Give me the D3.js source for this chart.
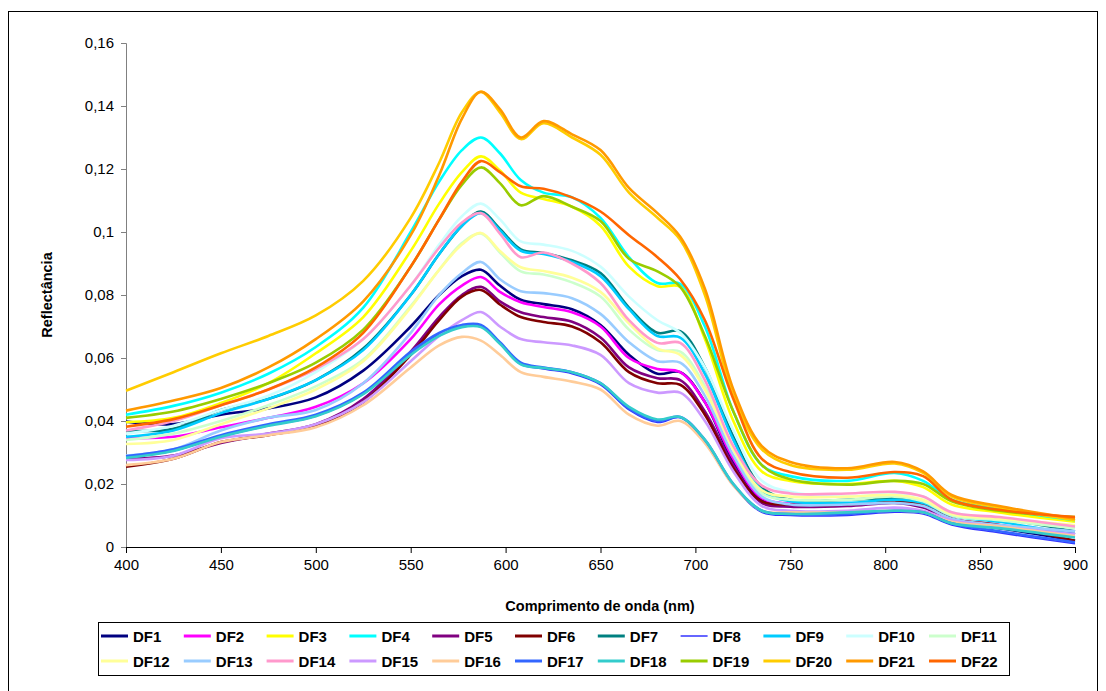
<!DOCTYPE html>
<html>
<head>
<meta charset="utf-8">
<script src="https://d3js.org/d3.v7.min.js"></script>
<style>
  body { margin: 0; background: #fff; }
  svg { font-family: "Liberation Sans", Arial, sans-serif; }
</style>
</head>
<body>
<svg id="chart" width="1106" height="691"></svg>
<script>
// wavelengths (nm) where the curves were read
const wavelengths = [400,425,450,475,500,525,550,565,577,587,597,608,620,635,650,665,680,692,705,720,735,750,780,805,820,835,860,900];

const df1  = [.0398,.039,.042,.044,.0475,.056,.070,.080,.086,.088,.083,.0785,.0771,.0755,.0705,.061,.055,.0555,.046,.027,.015,.0135,.0135,.015,.0135,.008,.006,.002];
const df2  = [.0346,.035,.038,.041,.0445,.052,.066,.077,.083,.0857,.081,.0777,.0762,.0745,.070,.060,.0565,.0555,.046,.028,.0155,.0138,.0135,.0145,.013,.009,.007,.004];
const df3  = [.0396,.041,.0457,.052,.0615,.073,.094,.109,.119,.124,.1195,.1125,.1105,.108,.102,.089,.0828,.0826,.066,.040,.024,.021,.020,.021,.019,.0135,.011,.008];
const df4  = [.042,.0448,.049,.055,.0635,.076,.100,.116,.126,.130,.125,.1165,.1125,.111,.1045,.092,.0838,.0835,.070,.043,.026,.0225,.021,.0235,.021,.015,.012,.0085];
const df5  = [.028,.029,.033,.036,.039,.047,.062,.073,.080,.0826,.078,.0745,.073,.0715,.0665,.057,.0536,.053,.043,.026,.014,.0128,.013,.014,.0125,.0085,.0065,.004];
const df6  = [.0255,.028,.0333,.0355,.0385,.046,.061,.072,.0795,.0816,.077,.073,.0714,.070,.065,.0555,.052,.0515,.042,.025,.0145,.0135,.0135,.0145,.0135,.009,.007,.002];
const df7  = [.037,.0375,.0435,.047,.053,.063,.080,.093,.102,.1065,.101,.0945,.0933,.091,.087,.076,.068,.0685,.057,.035,.019,.015,.015,.0155,.0145,.010,.009,.005];
const df8  = [.0285,.0305,.035,.0385,.0415,.0485,.0615,.0675,.070,.070,.0645,.058,.0565,.055,.0515,.0435,.0395,.041,.0335,.0195,.011,.010,.010,.011,.0105,.007,.0045,.001];
const df9  = [.035,.037,.0425,.047,.053,.0625,.080,.093,.102,.106,.1005,.094,.093,.0905,.086,.0755,.067,.0665,.055,.034,.018,.0145,.014,.015,.014,.010,.008,.004];
const df10 = [.036,.0385,.0435,.048,.0555,.066,.083,.096,.105,.109,.104,.097,.096,.094,.089,.0795,.072,.068,.057,.037,.021,.0175,.016,.017,.016,.011,.009,.006];
const df11 = [.034,.036,.040,.045,.051,.0595,.0765,.088,.0965,.0995,.0935,.0875,.0865,.084,.0795,.069,.0625,.062,.051,.031,.017,.015,.015,.016,.0145,.010,.0085,.006];
const df12 = [.0327,.034,.039,.044,.050,.059,.076,.088,.096,.0997,.094,.0888,.0876,.0855,.081,.071,.063,.061,.050,.031,.018,.016,.016,.0165,.015,.0105,.009,.007];
const df13 = [.029,.031,.037,.041,.0435,.052,.068,.080,.087,.0905,.085,.0812,.0806,.079,.074,.065,.059,.0585,.048,.029,.016,.0135,.0135,.014,.013,.009,.007,.005];
const df14 = [.037,.040,.045,.050,.0565,.066,.083,.095,.103,.106,.0995,.092,.0935,.090,.0838,.072,.0648,.0648,.053,.032,.0195,.017,.017,.0175,.016,.011,.0095,.0065];
const df15 = [.0276,.029,.0345,.036,.039,.046,.059,.067,.072,.0746,.070,.066,.065,.064,.061,.052,.049,.049,.040,.024,.013,.0115,.0115,.0125,.0115,.0085,.0065,.004];
const df16 = [.026,.028,.0333,.0355,.038,.045,.057,.064,.0667,.0655,.061,.0555,.054,.0525,.050,.042,.0385,.040,.033,.0195,.0115,.011,.011,.0115,.011,.008,.0065,.0035];
const df17 = [.0288,.031,.0355,.039,.042,.049,.062,.068,.0705,.0705,.065,.0585,.057,.0555,.052,.044,.040,.0413,.034,.020,.0115,.0105,.0105,.0115,.011,.0075,.005,.0015];
const df18 = [.0283,.0305,.035,.0385,.0415,.0485,.061,.067,.0698,.0698,.0645,.058,.0568,.0555,.052,.0445,.0405,.0413,.034,.020,.0115,.0105,.011,.0115,.011,.0075,.006,.003];
const df19 = [.041,.043,.047,.052,.0585,.069,.089,.104,.115,.1205,.1155,.1085,.1114,.108,.1035,.0915,.0875,.0826,.067,.043,.026,.0215,.0198,.021,.020,.0145,.0115,.0095];
const df20 = [.0496,.0555,.0615,.067,.0735,.0845,.1045,.122,.138,.1445,.138,.1295,.1345,.130,.1245,.1125,.1045,.0975,.080,.048,.031,.026,.0245,.0265,.0235,.016,.0125,.0085];
const df21 = [.0433,.0465,.0505,.057,.066,.078,.099,.118,.136,.1445,.139,.130,.1352,.131,.126,.114,.106,.0985,.082,.050,.032,.027,.025,.027,.024,.0165,.013,.009];
const df22 = [.0382,.0406,.045,.050,.057,.068,.089,.104,.116,.1225,.119,.1145,.1137,.111,.1065,.099,.092,.085,.072,.047,.028,.0238,.022,.0238,.0225,.015,.0118,.0095];

const seriesNames = ['DF1','DF2','DF3','DF4','DF5','DF6','DF7','DF8','DF9','DF10','DF11',
                     'DF12','DF13','DF14','DF15','DF16','DF17','DF18','DF19','DF20','DF21','DF22'];
const seriesValues = [df1,df2,df3,df4,df5,df6,df7,df8,df9,df10,df11,df12,df13,df14,df15,df16,df17,df18,df19,df20,df21,df22];
const colors = ['#000080','#FF00FF','#FFFF00','#00FFFF','#800080','#800000','#008080','#3333FF',
                '#00CCFF','#CCFFFF','#CCFFCC','#FFFF99','#99CCFF','#FF99CC','#CC99FF','#FFCC99',
                '#3366FF','#33CCCC','#99CC00','#FFCC00','#FF9900','#FF6600'];
const yTicks = [0,0.02,0.04,0.06,0.08,0.1,0.12,0.14,0.16];
const xTicks = [400,450,500,550,600,650,700,750,800,850,900];

const svg = d3.select('#chart');

// outer frame
svg.append('rect')
  .attr('x', 8.5).attr('y', 11.5)
  .attr('width', 1089).attr('height', 690)
  .attr('fill', 'none').attr('stroke', '#000').attr('stroke-width', 1);

const margin = { left: 126, top: 43, right: 1075, bottom: 547 };

const x = d3.scaleLinear().domain([400, 900]).range([margin.left, margin.right]);
const y = d3.scaleLinear().domain([0, 0.16]).range([margin.bottom, margin.top]);

const fmt = d => d === 0 ? '0' : String(+d.toFixed(2)).replace('.', ',');

// y axis
const yAxis = svg.append('g')
  .attr('transform', `translate(${margin.left},0)`)
  .call(d3.axisLeft(y).tickValues(yTicks).tickFormat(fmt).tickSize(5).tickPadding(7));
yAxis.selectAll('path, line').attr('stroke', '#808080');
yAxis.selectAll('text').attr('font-size', 15).attr('fill', '#000')
  .attr('font-family', '"Liberation Sans", Arial, sans-serif');

// lines
const line = d3.line()
  .x((d, i) => x(wavelengths[i]))
  .y(d => y(d))
  .curve(d3.curveCatmullRom.alpha(0.5));

svg.append('g')
  .selectAll('path')
  .data(seriesValues)
  .join('path')
  .attr('d', d => line(d))
  .attr('fill', 'none')
  .attr('stroke', (d, i) => colors[i])
  .attr('stroke-width', (d, i) => i === 7 ? 1.5 : 2.6)
  .attr('stroke-linejoin', 'round');

// x axis
const xAxis = svg.append('g')
  .attr('transform', `translate(0,${margin.bottom})`)
  .call(d3.axisBottom(x).tickValues(xTicks).tickFormat(d3.format('d')).tickSize(6).tickPadding(6));
xAxis.selectAll('path, line').attr('stroke', '#000');
xAxis.selectAll('text').attr('font-size', 15).attr('fill', '#000')
  .attr('font-family', '"Liberation Sans", Arial, sans-serif');

// axis titles
svg.append('text')
  .attr('x', 600).attr('y', 611)
  .attr('text-anchor', 'middle')
  .attr('font-size', 14.5).attr('font-weight', 'bold')
  .text('Comprimento de onda (nm)');

svg.append('text')
  .attr('transform', 'translate(52,295) rotate(-90)')
  .attr('text-anchor', 'middle')
  .attr('font-size', 14.5).attr('font-weight', 'bold')
  .text('Reflectância');

// legend
const legend = svg.append('g');
legend.append('rect')
  .attr('x', 98.5).attr('y', 622.5)
  .attr('width', 911).attr('height', 53)
  .attr('fill', '#fff').attr('stroke', '#000');

const items = legend.selectAll('g.item')
  .data(seriesNames)
  .join('g')
  .attr('class', 'item')
  .attr('transform', (d, i) => `translate(${101 + (i % 11) * 82.8},${i < 11 ? 636 : 661})`);

items.append('line')
  .attr('x1', 0).attr('x2', 27)
  .attr('stroke', (d, i) => colors[i])
  .attr('stroke-width', (d, i) => i === 7 ? 1.5 : 3);

items.append('text')
  .attr('x', 32).attr('y', 5.5)
  .attr('font-size', 15).attr('font-weight', 'bold')
  .text(d => d);
</script>
</body>
</html>
